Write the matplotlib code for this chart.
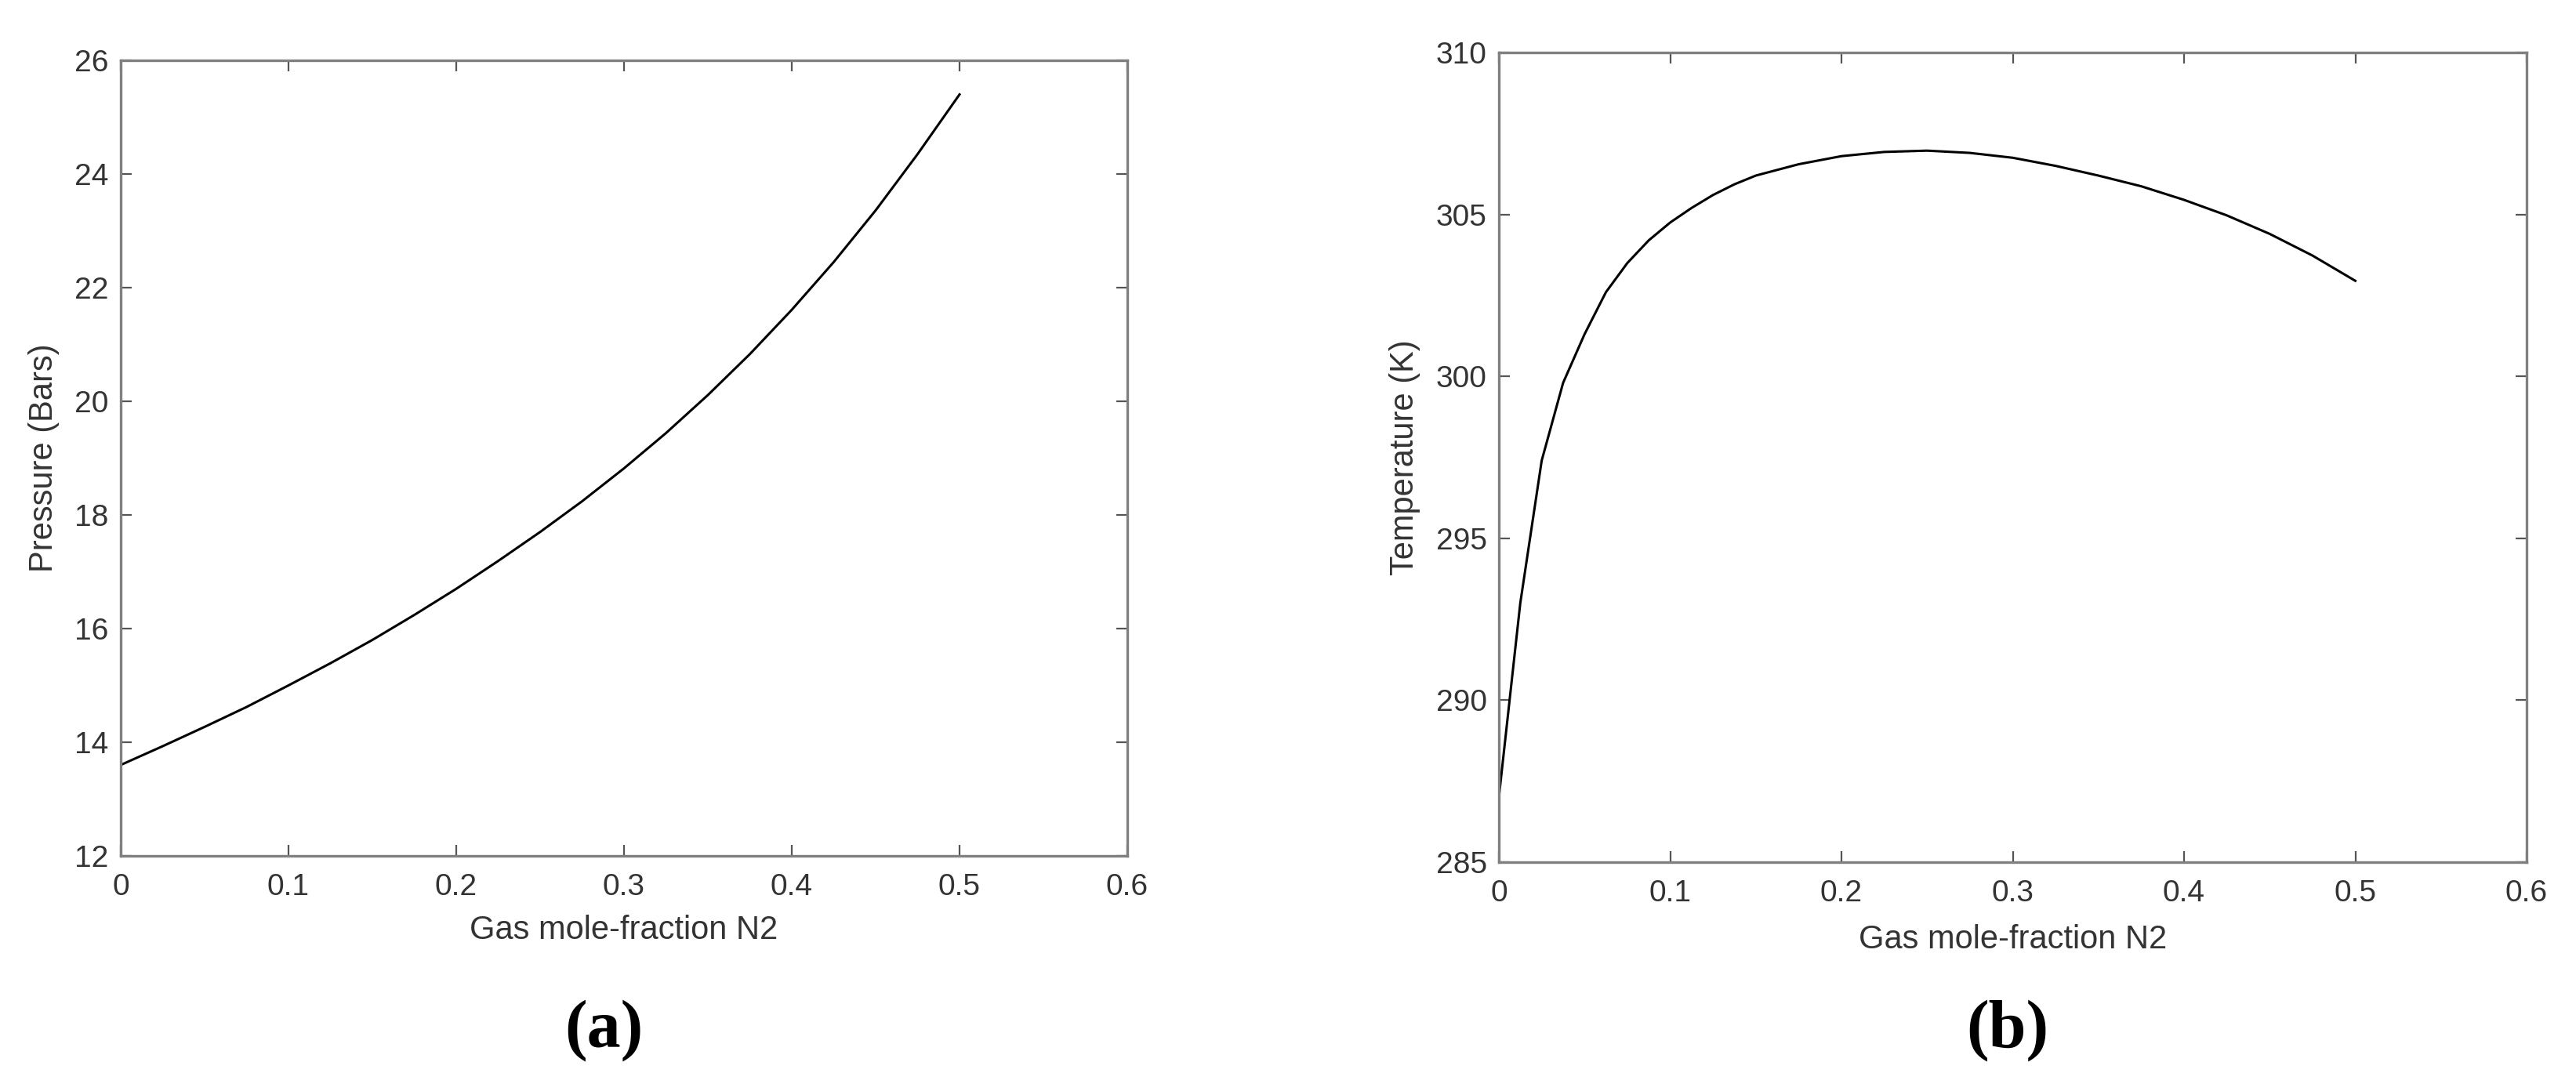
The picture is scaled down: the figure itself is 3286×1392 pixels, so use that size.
import matplotlib
matplotlib.use('Agg')
import matplotlib.pyplot as plt

# (a) presion vs fraccion molar de N2 en el gas
x_p = [0.0, 0.025, 0.05, 0.075, 0.1, 0.125, 0.15, 0.175, 0.2, 0.225, 0.25,
       0.275, 0.3, 0.325, 0.35, 0.375, 0.4, 0.425, 0.45, 0.475, 0.5]
presion = [13.6, 13.93, 14.27, 14.62, 15.0, 15.39, 15.8, 16.24, 16.7, 17.19, 17.7,
           18.24, 18.82, 19.44, 20.11, 20.83, 21.61, 22.45, 23.36, 24.35, 25.4]

# (b) temperatura vs fraccion molar de N2 en el gas
x_t = [0.0, 0.0125, 0.025, 0.0375, 0.05, 0.0625, 0.075, 0.0875, 0.1, 0.1125, 0.125,
       0.1375, 0.15, 0.175, 0.2, 0.225, 0.25, 0.275, 0.3, 0.325, 0.35, 0.375,
       0.4, 0.425, 0.45, 0.475, 0.5]
temperatura = [287.0, 293.0, 297.4, 299.8, 301.3, 302.6, 303.5, 304.2, 304.75, 305.2, 305.6,
               305.93, 306.2, 306.55, 306.8, 306.93, 306.97, 306.9, 306.75, 306.5, 306.2, 305.87,
               305.45, 304.97, 304.4, 303.73, 302.95]

xticks = [0, 0.1, 0.2, 0.3, 0.4, 0.5, 0.6]
xticklabels = ['0', '0.1', '0.2', '0.3', '0.4', '0.5', '0.6']
yticks_p = [12, 14, 16, 18, 20, 22, 24, 26]
yticks_t = [285, 290, 295, 300, 305, 310]

plt.rcParams['font.family'] = ['Liberation Sans', 'DejaVu Sans']
texto = '#333333'
borde = '#808080'

fig = plt.figure(figsize=(32.86, 13.92), dpi=100)
W, H = 3286, 1392

def caja(l, r, t, b):
    return [l / W, 1 - b / H, (r - l) / W, (b - t) / H]

ax1 = fig.add_axes(caja(154, 1438, 77, 1092))
ax2 = fig.add_axes(caja(1912, 3223, 67, 1100))

def formato(ax, yticks, ylabel, pad_x):
    ax.set_xlim(0, 0.6)
    ax.set_ylim(yticks[0], yticks[-1])
    ax.set_xticks(xticks)
    ax.set_xticklabels(xticklabels)
    ax.set_yticks(yticks)
    for s in ax.spines.values():
        s.set_color(borde)
        s.set_linewidth(2.4)
    ax.tick_params(direction='in', length=10, width=1.6, color='#555555',
                   top=True, right=True, labelsize=28, labelcolor=texto)
    ax.tick_params(axis='x', pad=16)
    ax.tick_params(axis='y', pad=11)
    ax.set_xlabel('Gas mole-fraction N2', fontsize=30, color=texto, labelpad=pad_x)
    ax.set_ylabel(ylabel, fontsize=30, color=texto, labelpad=14)

ax1.plot(x_p, presion, color='black', linewidth=2.2)
formato(ax1, yticks_p, 'Pressure (Bars)', 12)

ax2.plot(x_t, temperatura, color='black', linewidth=2.2)
formato(ax2, yticks_t, 'Temperature (K)', 15)

fig.text(770 / W, 1 - 1315 / H, '(a)', ha='center', va='center',
         fontsize=62, fontweight='bold', family='Liberation Serif')
fig.text(2561 / W, 1 - 1315 / H, '(b)', ha='center', va='center',
         fontsize=62, fontweight='bold', family='Liberation Serif')

fig.savefig('out.png', dpi=100, facecolor='white')
